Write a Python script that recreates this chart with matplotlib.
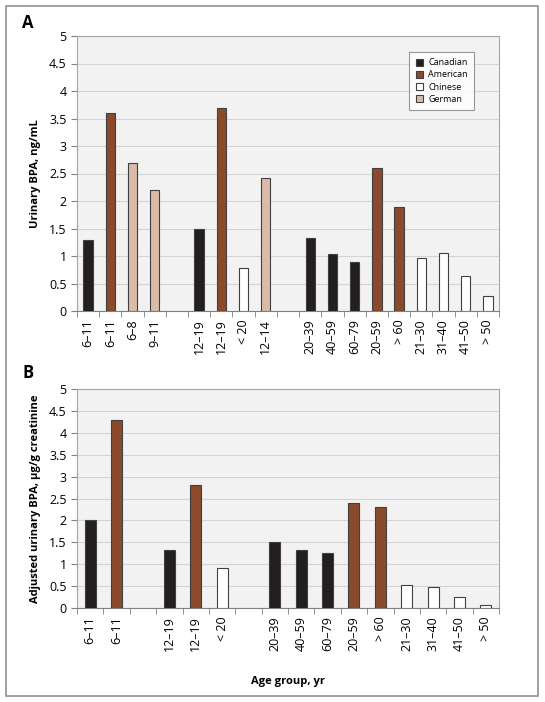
import matplotlib.pyplot as plt
from matplotlib.patches import Rectangle, Patch
import numpy as np

plt.rcParams['font.family'] = ['Open Sans', 'DejaVu Sans']

# colours per country
colors = {"Canadian": "#231f20", "American": "#8a4a2b",
          "Chinese": "#ffffff", "German": "#d9bba8"}

# panel A (None = empty slot between groups)
labels_a = ["6\u201311", "6\u201311", "6\u20138", "9\u201311", None,
            "12\u201319", "12\u201319", "< 20", "12\u201314", None,
            "20\u201339", "40\u201359", "60\u201379", "20\u201359", "> 60",
            "21\u201330", "31\u201340", "41\u201350", "> 50"]
country_a = ["Canadian", "American", "German", "German", None,
             "Canadian", "American", "Chinese", "German", None,
             "Canadian", "Canadian", "Canadian", "American", "American",
             "Chinese", "Chinese", "Chinese", "Chinese"]
values_a = [1.3, 3.6, 2.7, 2.2, None,
            1.5, 3.7, 0.78, 2.42, None,
            1.32, 1.03, 0.9, 2.6, 1.9,
            0.96, 1.06, 0.64, 0.27]

# panel B
labels_b = ["6\u201311", "6\u201311", None,
            "12\u201319", "12\u201319", "< 20", None,
            "20\u201339", "40\u201359", "60\u201379", "20\u201359", "> 60",
            "21\u201330", "31\u201340", "41\u201350", "> 50"]
country_b = ["Canadian", "American", None,
             "Canadian", "American", "Chinese", None,
             "Canadian", "Canadian", "Canadian", "American", "American",
             "Chinese", "Chinese", "Chinese", "Chinese"]
values_b = [2.0, 4.3, None,
            1.32, 2.8, 0.92, None,
            1.5, 1.33, 1.26, 2.4, 2.3,
            0.52, 0.48, 0.24, 0.06]

W, H = 545, 702
fig = plt.figure(figsize=(W / 100, H / 100), dpi=100)

# outer frame
fig.add_artist(Rectangle((6 / W, 1 - 696 / H), 532 / W, 690 / H,
                         transform=fig.transFigure, fill=False,
                         edgecolor="#9a9a9a", linewidth=1.3))


def panel(rect, labels, countries, values, ylabel, letter, letter_y):
    ax = fig.add_axes(rect)
    ax.set_facecolor("#f2f2f2")
    n = len(labels)
    x = np.arange(n)
    for i in range(n):
        if values[i] is None:
            continue
        ax.bar(x[i], values[i], width=0.42, color=colors[countries[i]],
               edgecolor="#404040", linewidth=0.8, zorder=3)
    ax.set_xlim(-0.5, n - 0.5)
    ax.set_ylim(0, 5)
    ax.set_yticks(np.arange(0, 5.01, 0.5))
    ax.set_yticklabels(["0", "0.5", "1", "1.5", "2", "2.5", "3",
                        "3.5", "4", "4.5", "5"])
    ax.yaxis.grid(True, color="#d4d4d4", linewidth=0.8, zorder=0)
    ax.set_xticks(x)
    ax.set_xticklabels([l if l else "" for l in labels], rotation=90)
    ax.tick_params(axis="x", length=0, pad=6, labelsize=9)
    ax.set_xticks(np.arange(-0.5, n, 1), minor=True)
    ax.tick_params(axis="x", which="minor", length=4, color="#808080")
    ax.tick_params(axis="y", length=4, color="#808080", labelsize=9)
    for s in ax.spines.values():
        s.set_color("#a6a6a6")
    ax.spines["bottom"].set_color("#808080")
    ax.set_ylabel(ylabel, fontsize=8, fontweight="bold", labelpad=6)
    fig.text(22 / W, 1 - letter_y / H, letter, fontsize=12,
             fontweight="bold", va="center")
    return ax


ax_a = panel([77 / W, 1 - 311 / H, 422 / W, 275 / H], labels_a, country_a,
             values_a, "Urinary BPA, ng/mL", "A", 23)
ax_b = panel([77 / W, 1 - 608 / H, 422 / W, 219 / H], labels_b, country_b,
             values_b, "Adjusted urinary BPA, \u00b5g/g creatinine", "B", 373)
ax_b.set_xlabel("Age group, yr", fontsize=8, fontweight="bold", labelpad=18)

handles = [Patch(facecolor=colors[c], edgecolor="#404040", linewidth=0.8, label=c)
           for c in ["Canadian", "American", "Chinese", "German"]]
leg = ax_a.legend(handles=handles, loc="upper right",
                  bbox_to_anchor=(0.941, 0.942), borderaxespad=0,
                  fontsize=6.5, frameon=True,
                  fancybox=False, edgecolor="#808080", handlelength=0.8,
                  handleheight=0.8, handletextpad=0.6, borderpad=0.7,
                  labelspacing=0.35)
leg.get_frame().set_linewidth(0.8)

fig.savefig("out.png", dpi=100)
